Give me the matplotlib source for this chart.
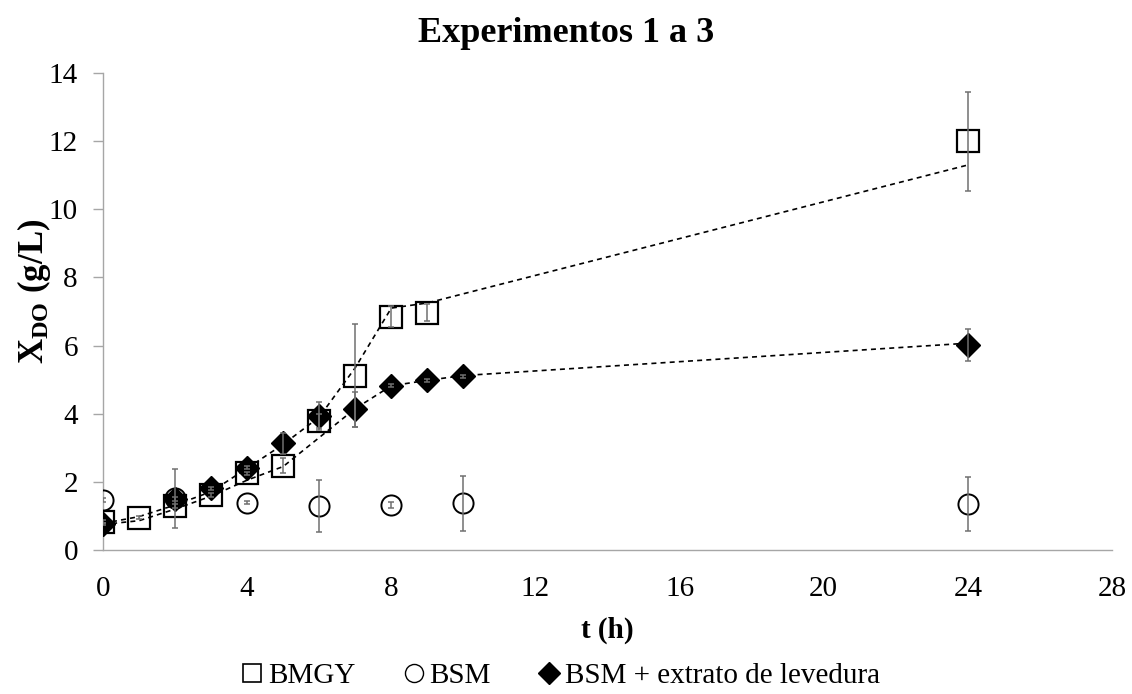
import matplotlib
matplotlib.use("Agg")
import matplotlib.pyplot as plt
from matplotlib.lines import Line2D

plt.rcParams['font.family'] = ['Liberation Serif', 'DejaVu Serif']
plt.rcParams['mathtext.fontset'] = 'custom'
plt.rcParams['mathtext.rm'] = 'Liberation Serif'
plt.rcParams['mathtext.bf'] = 'Liberation Serif:bold'

# BMGY (squares)
t_bmgy = [0, 1, 2, 3, 4, 5, 6, 7, 8, 9, 24]
x_bmgy = [0.83, 0.95, 1.29, 1.61, 2.25, 2.47, 3.79, 5.12, 6.85, 6.97, 12.0]
e_bmgy = [0.05, 0.05, 0.05, 0.05, 0.05, 0.22, 0.2, 1.52, 0.31, 0.25, 1.45]

# BSM (circles)
t_bsm = [0, 2, 4, 6, 8, 10, 24]
x_bsm = [1.47, 1.52, 1.39, 1.29, 1.32, 1.37, 1.35]
e_bsm = [0.05, 0.86, 0.05, 0.77, 0.08, 0.8, 0.78]

# BSM + extrato de levedura (diamonds)
t_ext = [0, 2, 3, 4, 5, 6, 7, 8, 9, 10, 24]
x_ext = [0.76, 1.5, 1.81, 2.42, 3.13, 3.93, 4.13, 4.82, 4.98, 5.10, 6.02]
e_ext = [0.03, 0.05, 0.05, 0.05, 0.3, 0.42, 0.52, 0.05, 0.05, 0.05, 0.46]

# fitted curves (dashed)
tf_bmgy = [0, 1, 2, 3, 4, 5, 6, 7, 8, 9, 24]
xf_bmgy = [0.78, 0.98, 1.32, 1.71, 2.4, 3.1, 3.9, 5.35, 7.1, 7.25, 11.3]
tf_ext = [0, 1, 2, 3, 4, 5, 6, 7, 8, 9, 10, 24]
xf_ext = [0.75, 0.86, 1.2, 1.58, 2.05, 2.45, 3.3, 4.15, 4.82, 4.98, 5.12, 6.07]

W, H = 1132, 694
fig = plt.figure(figsize=(W / 100, H / 100), dpi=100)
ax = fig.add_axes([103 / W, 1 - 550 / H, 1009 / W, 477 / H])

gray = '#a6a6a6'
ecol = '#707070'
fs = 21

ax.plot(tf_bmgy, xf_bmgy, color='black', ls=(0, (3, 2.5)), lw=1.2, zorder=2)
ax.plot(tf_ext, xf_ext, color='black', ls=(0, (3, 2.5)), lw=1.2, zorder=2)

ax.plot(t_bmgy, x_bmgy, ls='none', marker='s', ms=15.5, mfc='none', mec='black', mew=1.6, zorder=3)
ax.plot(t_bsm, x_bsm, ls='none', marker='o', ms=14.5, mfc='none', mec='black', mew=1.4, zorder=3)
ax.plot(t_ext, x_ext, ls='none', marker='D', ms=12, mfc='black', mec='black', mew=1, zorder=4)

for t, x, e in [(t_bmgy, x_bmgy, e_bmgy), (t_bsm, x_bsm, e_bsm), (t_ext, x_ext, e_ext)]:
    ax.errorbar(t, x, yerr=e, fmt='none', ecolor=ecol, elinewidth=1.1, capsize=2.5, capthick=1.1, zorder=5)

ax.set_xlim(0, 28)
ax.set_ylim(0, 14)
ax.set_xticks(range(0, 29, 4))
ax.set_yticks(range(0, 15, 2))
ax.tick_params(axis='x', length=0, pad=19, labelsize=fs)
ax.tick_params(axis='y', direction='out', length=7, width=1, color=gray, pad=11, labelsize=fs)
for s in ['top', 'right']:
    ax.spines[s].set_visible(False)
for s in ['left', 'bottom']:
    ax.spines[s].set_color(gray)
    ax.spines[s].set_linewidth(1)
ax.spines['bottom'].set_zorder(1)

ax.set_xlabel('t (h)', fontsize=fs, fontweight='bold', labelpad=10)
ax.set_ylabel(r'$\mathbf{X_{DO}}$ (g/L)', fontsize=25, fontweight='bold')
ax.yaxis.set_label_coords(-0.05, 0.543)
fig.text(0.5, 1 - 34 / H, 'Experimentos 1 a 3', ha='center', va='center', fontsize=26, fontweight='bold')

handles = [
    Line2D([], [], ls='none', marker='s', ms=13, mfc='none', mec='black', mew=1.2),
    Line2D([], [], ls='none', marker='o', ms=13, mfc='none', mec='black', mew=1.0),
    Line2D([], [], ls='none', marker='D', ms=11, mfc='black', mec='black'),
]
fig.legend(handles, ['BMGY', 'BSM', 'BSM + extrato de levedura'], loc='center',
           bbox_to_anchor=(0.495, 1 - 676 / H), ncol=3, frameon=False, fontsize=fs,
           handlelength=0.8, handletextpad=0.15, columnspacing=1.6)

fig.savefig('out.png', dpi=100)
